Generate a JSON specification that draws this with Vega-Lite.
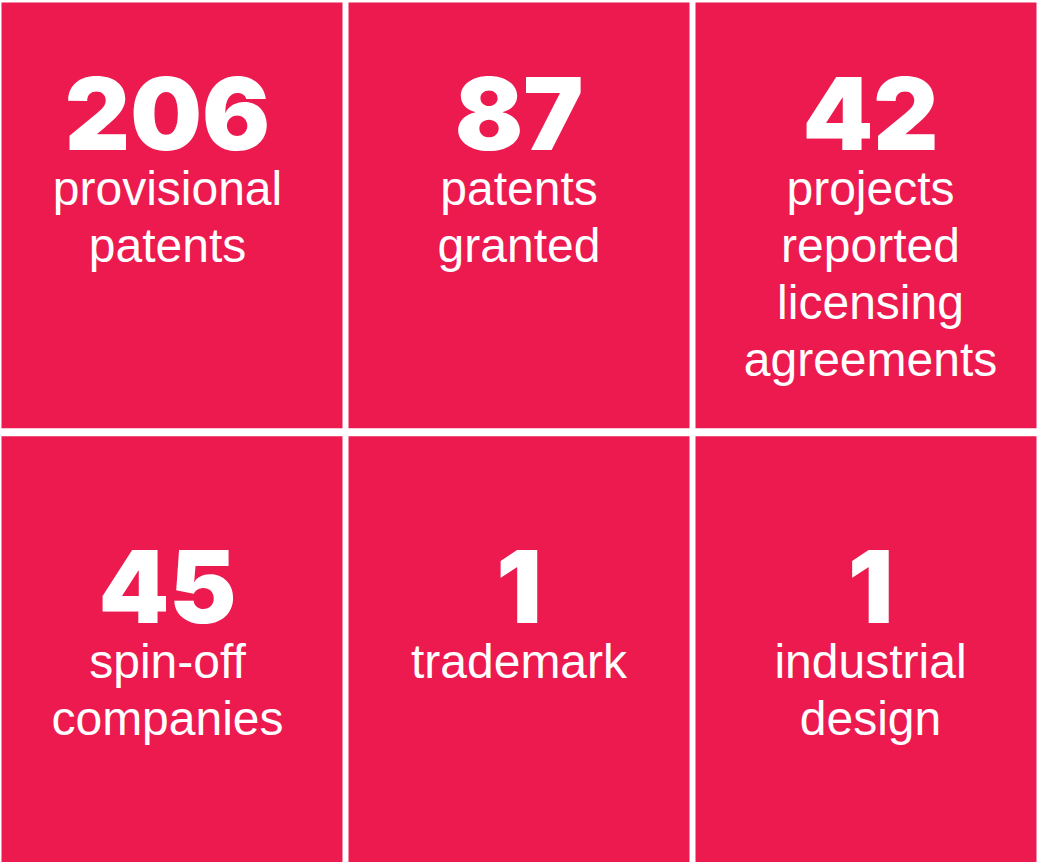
{
  "$schema": "https://vega.github.io/schema/vega-lite/v6.json",
  "width": 1038,
  "height": 862,
  "autosize": "none",
  "padding": 0,
  "background": "#ffffff",
  "config": {"view": {"stroke": null}},
  "data": {
    "values": [
      {"col": 0, "row": 0, "value": "206", "label": ["provisional", "patents"]},
      {"col": 1, "row": 0, "value": "87", "label": ["patents", "granted"]},
      {"col": 2, "row": 0, "value": "42", "label": ["projects", "reported", "licensing", "agreements"]},
      {"col": 0, "row": 1, "value": "45", "label": ["spin-off", "companies"]},
      {"col": 1, "row": 1, "value": "1", "label": ["trademark"]},
      {"col": 2, "row": 1, "value": "1", "label": ["industrial", "design"]}
    ]
  },
  "resolve": {"scale": {"x": "independent", "y": "independent"}},
  "layer": [
    {
      "mark": {"type": "rect", "color": "#EC1A4F"},
      "encoding": {
        "x": {"field": "col", "type": "ordinal", "axis": null,
              "scale": {"type": "band", "paddingInner": 0.0173, "paddingOuter": 0.0043}},
        "y": {"field": "row", "type": "ordinal", "axis": null,
              "scale": {"type": "band", "paddingInner": 0.0185, "paddingOuter": 0.003, "align": 1}}
      }
    },
    {
      "mark": {"type": "text", "color": "#ffffff", "font": "Inter", "fontWeight": 900,
               "fontSize": 101, "align": "center", "baseline": "alphabetic"},
      "encoding": {
        "x": {"field": "col", "type": "ordinal", "axis": null,
              "scale": {"type": "point", "padding": 0.4765}},
        "y": {"field": "row", "type": "ordinal", "axis": null,
              "scale": {"type": "point", "padding": 0.4112, "align": 0.3856}},
        "text": {"field": "value"}
      }
    },
    {
      "mark": {"type": "text", "color": "#ffffff", "font": "Liberation Sans",
               "fontSize": 48, "align": "center", "baseline": "alphabetic",
               "dy": 55, "lineHeight": 57},
      "encoding": {
        "x": {"field": "col", "type": "ordinal", "axis": null,
              "scale": {"type": "point", "padding": 0.4765}},
        "y": {"field": "row", "type": "ordinal", "axis": null,
              "scale": {"type": "point", "padding": 0.4112, "align": 0.3856}},
        "text": {"field": "label"}
      }
    }
  ]
}
